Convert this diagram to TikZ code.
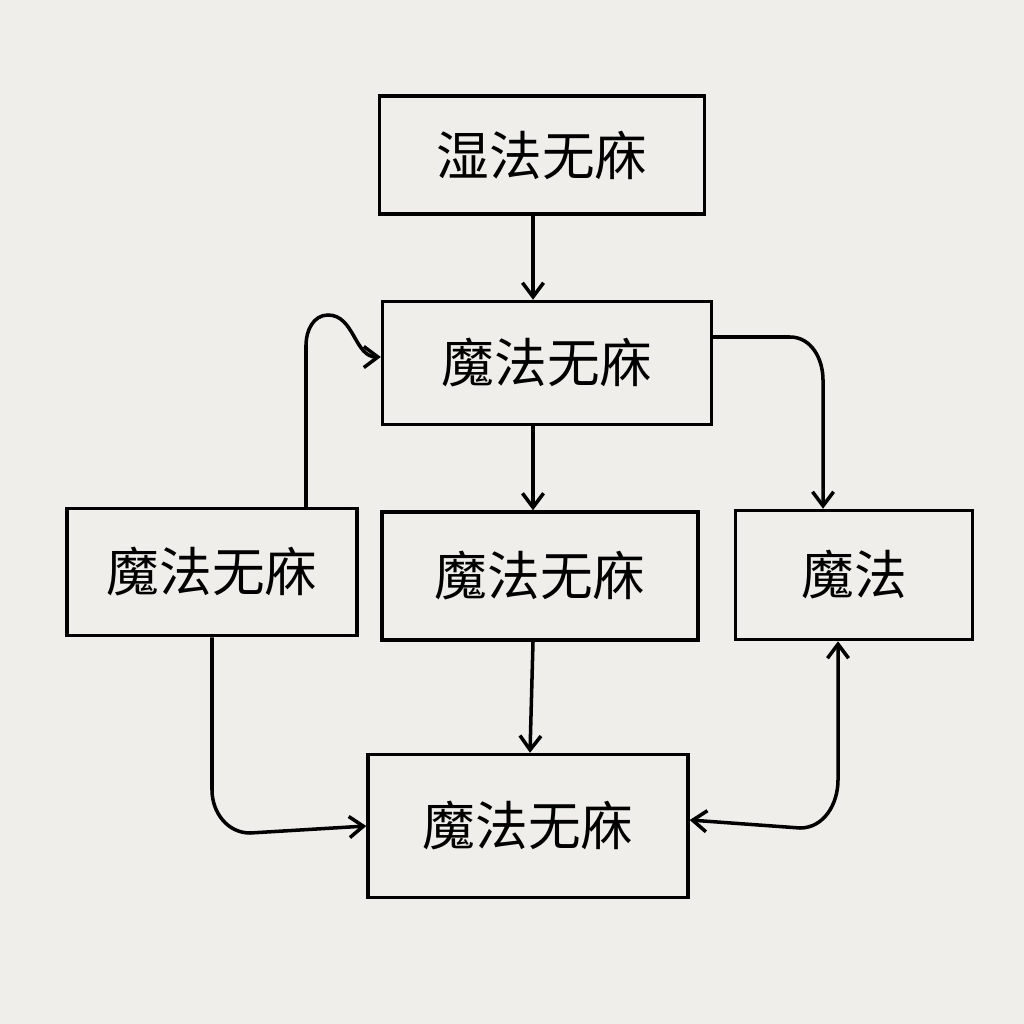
\documentclass[tikz,border=0pt]{standalone}
\usepackage{fontspec}
\newfontfamily\cjk{Noto Sans CJK SC}
\usetikzlibrary{arrows.meta,positioning}
\definecolor{paper}{HTML}{EFEEEA}
\begin{document}
\begin{tikzpicture}[
    x=0.02cm, y=-0.02cm,
    box/.style={rectangle, draw=black, line width=2pt, inner sep=0pt, text centered, font=\cjk\fontsize{30}{36}\selectfont},
    arrow/.style={-{Straight Barb[length=8pt,width=12pt]}, line width=2pt},
    twoway/.style={{Straight Barb[length=8pt,width=12pt]}-{Straight Barb[length=8pt,width=12pt]}, line width=2pt}
]
    % Paper
    \fill[paper] (0,0) rectangle (1024,1024);
    \useasboundingbox (0,0) rectangle (1024,1024);

    % Boxes
    \node[box, minimum width=6.5cm, minimum height=2.36cm] (start) at (542,155) {湿法无庥};
    \node[box, minimum width=6.58cm, minimum height=2.46cm] (magic) at (547,363) {魔法无庥};
    \node[box, minimum width=5.8cm, minimum height=2.54cm] (left) at (212,572) {魔法无庥};
    \node[box, minimum width=6.32cm, minimum height=2.56cm] (middle) at (540,576) {魔法无庥};
    \node[box, minimum width=4.74cm, minimum height=2.58cm] (right) at (854,575) {魔法};
    \node[box, minimum width=6.4cm, minimum height=2.86cm] (final) at (528,826) {魔法无庥};

    % Arrows
    \draw[arrow] (start.south -| 533,0) -- (magic.north -| 533,0);
    \draw[arrow] (magic.south -| 533,0) -- (middle.north -| 533,0);
    \draw[arrow] (middle.south -| 533,0) -- (final.north -| 530,0);
    \draw[arrow] (magic.east |- 0,337) -- (790,337) to[out=0,in=90] (823,380) -- (right.north -| 823,0);
    \draw[arrow] (left.north -| 306,0) -- (306,345) to[out=90,in=180] (328,315) to[out=0,in=180] (magic.west |- 0,357);
    \draw[arrow] (left.south -| 212,0) -- (212,790) to[out=-90,in=180] (250,833) -- (final.west |- 0,826);
    \draw[twoway] (final.east |- 0,820) -- (800,828) to[out=0,in=-90] (838,780) -- (right.south -| 838,0);
\end{tikzpicture}
\end{document}
